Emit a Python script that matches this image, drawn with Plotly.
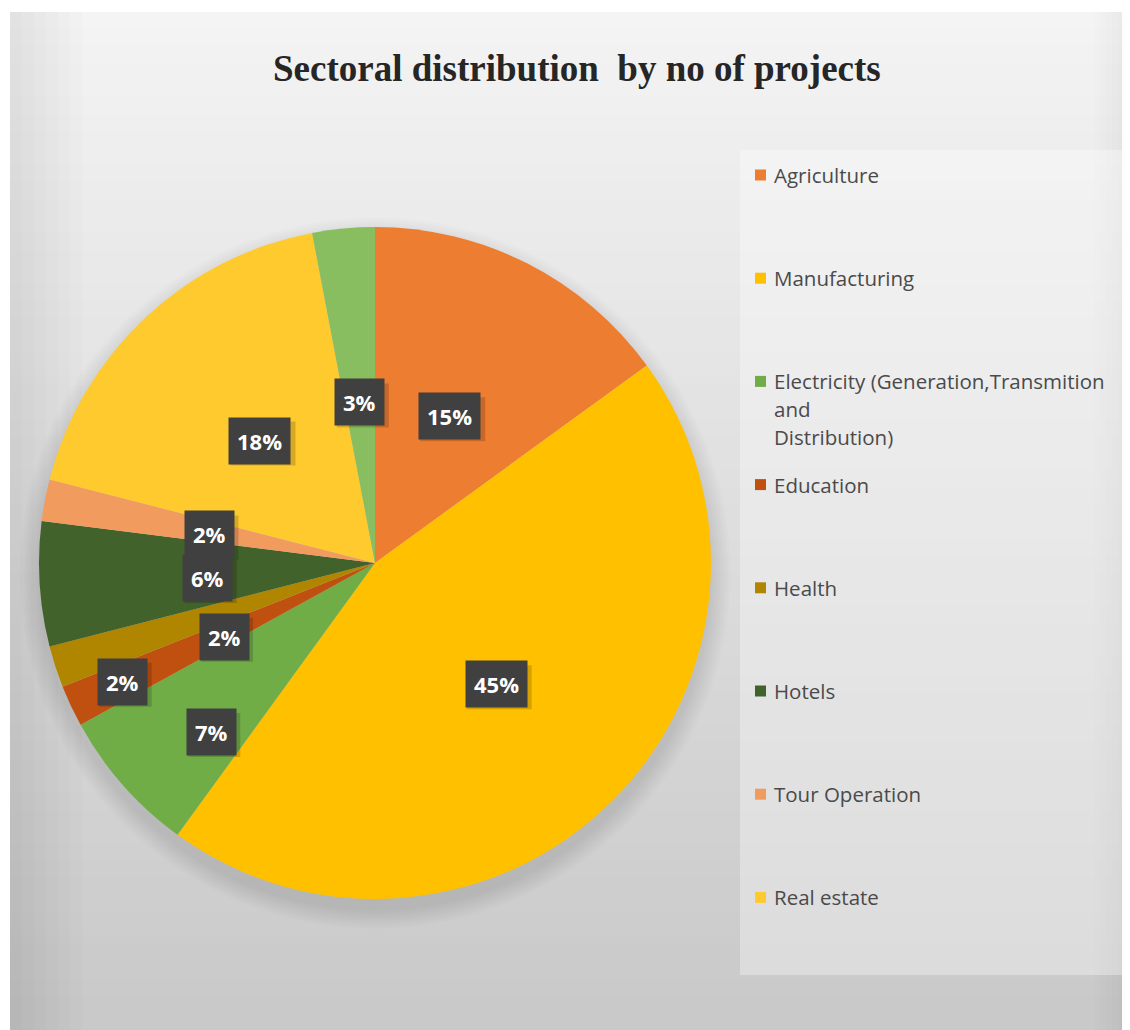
import math
import plotly.graph_objects as go

# ---- data ----
sectors = ["Agriculture", "Manufacturing",
           "Electricity (Generation,Transmition<br>and<br>Distribution)",
           "Education", "Health", "Hotels", "Tour Operation", "Real estate", "Other"]
shares = [15, 45, 7, 2, 2, 6, 2, 18, 3]
legend_sectors = sectors[:8]
title_text = "Sectoral distribution  by no of projects"

# ---- styling ----
colors = ["#ED7D31", "#FFC000", "#70AD47", "#C0500F", "#B08500",
          "#41622A", "#F29B5F", "#FFCA2D", "#88BD60"]
label_radius_frac = [0.49, 0.51, 0.70, 0.83, 0.50, 0.50, 0.50, 0.50, 0.48]
label_angle_shift = [0, 0, -4.5, 0, -8, -1.5, -1, 0, 0]   # degrees

OFF = 8                      # page body margin
W, H = 1130 - OFF, 1030 - OFF
CX, CY, R = 375, 563, 336    # pie centre / radius in reference px


def X(px):
    return (px - OFF) / W


def Y(py):
    return 1 - (py - OFF) / H


fig = go.Figure()

fig.add_trace(go.Pie(
    labels=sectors, values=shares, sort=False, direction="clockwise", rotation=0,
    marker=dict(colors=colors, line=dict(width=0)),
    textinfo="none", hoverinfo="label+percent", showlegend=False,
    domain=dict(x=[X(CX - R), X(CX + R)], y=[Y(CY + R), Y(CY - R)]),
))

shapes = []
# background gradient
n = 60
top_y, bot_y = 12, 1030
c0, c1 = (244, 244, 244), (201, 201, 201)
for i in range(n):
    t = i / (n - 1)
    col = tuple(int(c0[k] + (c1[k] - c0[k]) * t) for k in range(3))
    y0 = top_y + (bot_y - top_y) * i / n
    y1 = top_y + (bot_y - top_y) * (i + 1) / n + 1
    shapes.append(dict(type="rect", xref="paper", yref="paper", layer="below",
                       x0=X(10), x1=1, y0=max(0, Y(y1)), y1=Y(y0),
                       fillcolor="rgb(%d,%d,%d)" % col, line=dict(width=0)))
# side vignette
for i in range(6):
    shapes.append(dict(type="rect", xref="paper", yref="paper", layer="below",
                       x0=X(10), x1=X(10 + 12 * (i + 1)), y0=0, y1=Y(12),
                       fillcolor="rgba(0,0,0,0.01)", line=dict(width=0)))
    shapes.append(dict(type="rect", xref="paper", yref="paper", layer="below",
                       x0=X(1130 - 6 * (i + 1)), x1=1, y0=0, y1=Y(12),
                       fillcolor="rgba(0,0,0,0.007)", line=dict(width=0)))
# legend box
shapes.append(dict(type="rect", xref="paper", yref="paper", layer="below",
                   x0=X(740), x1=X(1127), y0=Y(975), y1=Y(150),
                   fillcolor="rgba(255,255,255,0.33)", line=dict(width=0)))
# soft pie shadow
for i in range(8):
    r = R + 2 + i * 2.5
    sy = CY + 10
    shapes.append(dict(type="circle", xref="paper", yref="paper", layer="below",
                       x0=X(CX - r), x1=X(CX + r), y0=Y(sy + r), y1=Y(sy - r),
                       fillcolor="rgba(0,0,0,0.012)", line=dict(width=0)))

# legend markers and labels
leg_y0, leg_dy, line_dy = 175, 103.2, 28
annotations = []
for i, name in enumerate(legend_sectors):
    y = leg_y0 + i * leg_dy
    shapes.append(dict(type="rect", xref="paper", yref="paper",
                       x0=X(755), x1=X(766), y0=Y(y + 5.5), y1=Y(y - 5.5),
                       fillcolor=colors[i], line=dict(width=0)))
    for j, line in enumerate(name.split("<br>")):
        annotations.append(dict(x=X(772), y=Y(y + j * line_dy), xref="paper", yref="paper",
                                text=line, showarrow=False, xanchor="left", yanchor="middle",
                                font=dict(family="Open Sans", size=20.5, color="#4a4a4a")))

# data labels
total = sum(shares)
cum = 0
for v, f, da in zip(shares, label_radius_frac, label_angle_shift):
    mid = (cum + v / 2) / total * 2 * math.pi + math.radians(da)
    cum += v
    px = CX + f * R * math.sin(mid)
    py = CY - f * R * math.cos(mid)
    txt = "%d%%" % round(v / total * 100)
    # soft drop shadow behind the label box
    hw = 9 + 6.5 * len(txt) + 4
    shapes.append(dict(type="rect", xref="paper", yref="paper",
                       x0=X(px - hw + 3), x1=X(px + hw + 3), y0=Y(py + 22 + 3), y1=Y(py - 22 + 3),
                       fillcolor="rgba(0,0,0,0.16)", line=dict(width=0)))
    annotations.append(dict(x=X(px), y=Y(py), xref="paper", yref="paper",
                            xanchor="center", yanchor="middle",
                            text="<b>" + txt + "</b>", showarrow=False,
                            bgcolor="#404040", borderpad=8,
                            font=dict(family="Open Sans", size=22, color="white")))

annotations.append(dict(x=X(577), y=Y(68), xref="paper", yref="paper",
                        xanchor="center", yanchor="middle",
                        text="<b>" + title_text + "</b>", showarrow=False,
                        font=dict(family="Liberation Serif", size=37, color="#262626")))

fig.update_layout(width=W, height=H, margin=dict(l=0, r=0, t=0, b=0),
                  paper_bgcolor="white", plot_bgcolor="white",
                  shapes=shapes, annotations=annotations, showlegend=False)

fig.write_html("out.html")
